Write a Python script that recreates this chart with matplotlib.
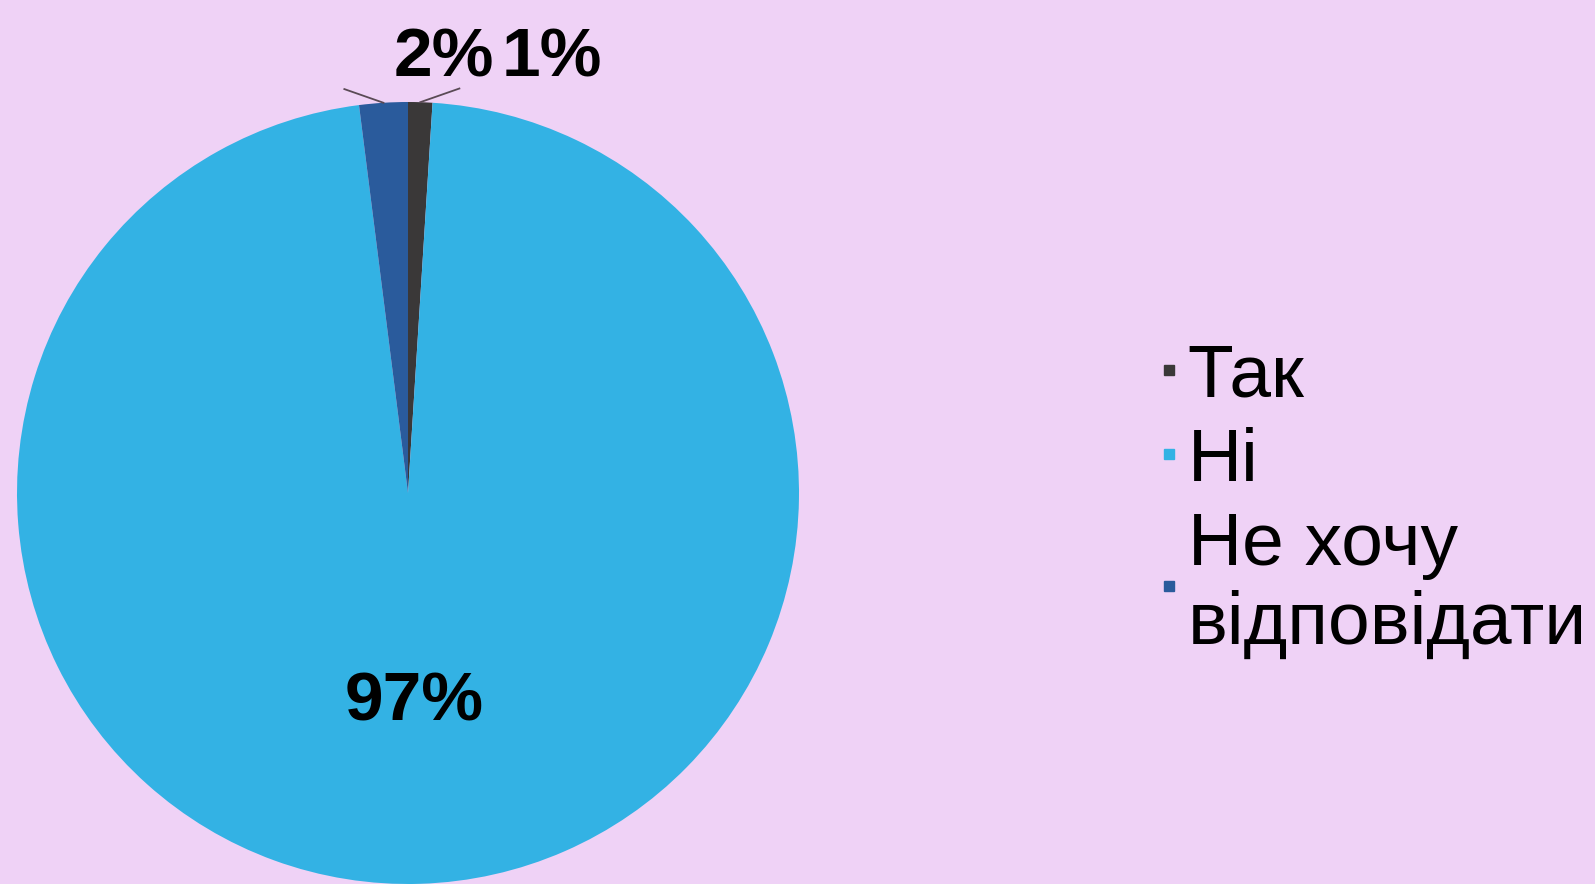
import numpy as np
import matplotlib.pyplot as plt
from matplotlib.lines import Line2D

plt.rcParams['font.family'] = ['Liberation Sans', 'DejaVu Sans']

labels = ['Так', 'Ні', 'Не хочу\nвідповідати']
values = [1, 97, 2]
colors = ['#3a3838', '#33b2e4', '#2a5b9c']
bg = '#efd2f6'

W, H = 1595, 884
fig = plt.figure(figsize=(W / 100, H / 100), dpi=100, facecolor=bg)
# pie centre ~ (408, 493) px, radius ~391 px
cx, cy, r = 408, 493, 391
ax = fig.add_axes([(cx - r) / W, (H - cy - r) / H, 2 * r / W, 2 * r / H])
ax.set_facecolor(bg)

wedges, texts, autotexts = ax.pie(values, colors=colors, startangle=90, counterclock=False,
                                  autopct='%1.0f%%', pctdistance=0.535,
                                  textprops={'fontsize': 50, 'fontweight': 'bold', 'color': 'black'},
                                  wedgeprops={'linewidth': 0})
ax.set_xlim(-1, 1)
ax.set_ylim(-1, 1)

# small slices: labels above the pie with short leader lines
offsets = {0: (0.368, 1.112, 1), 2: (0.092, 1.112, -1)}
for i, (tx, ty, side) in offsets.items():
    w = wedges[i]
    mid = np.deg2rad((w.theta1 + w.theta2) / 2)
    x0, y0 = np.cos(mid), np.sin(mid)
    ax.plot([x0, x0 + side * 0.1], [y0, y0 + 0.035], color='#5a4a55', lw=1.3, clip_on=False)
    autotexts[i].set_position((tx, ty))
    autotexts[i].set_ha('center')
    autotexts[i].set_va('center')

handles = [Line2D([], [], marker='s', linestyle='none', markersize=7.5,
                  markerfacecolor=c, markeredgecolor=c) for c in colors]
leg = fig.legend(handles, labels, loc='center left', bbox_to_anchor=(1120 / W, 1 - 501 / H),
                 frameon=False, fontsize=54, handlelength=0.3, handletextpad=0.1,
                 labelspacing=0.2, borderpad=0)

fig.savefig('out.png', dpi=100, facecolor=bg)
